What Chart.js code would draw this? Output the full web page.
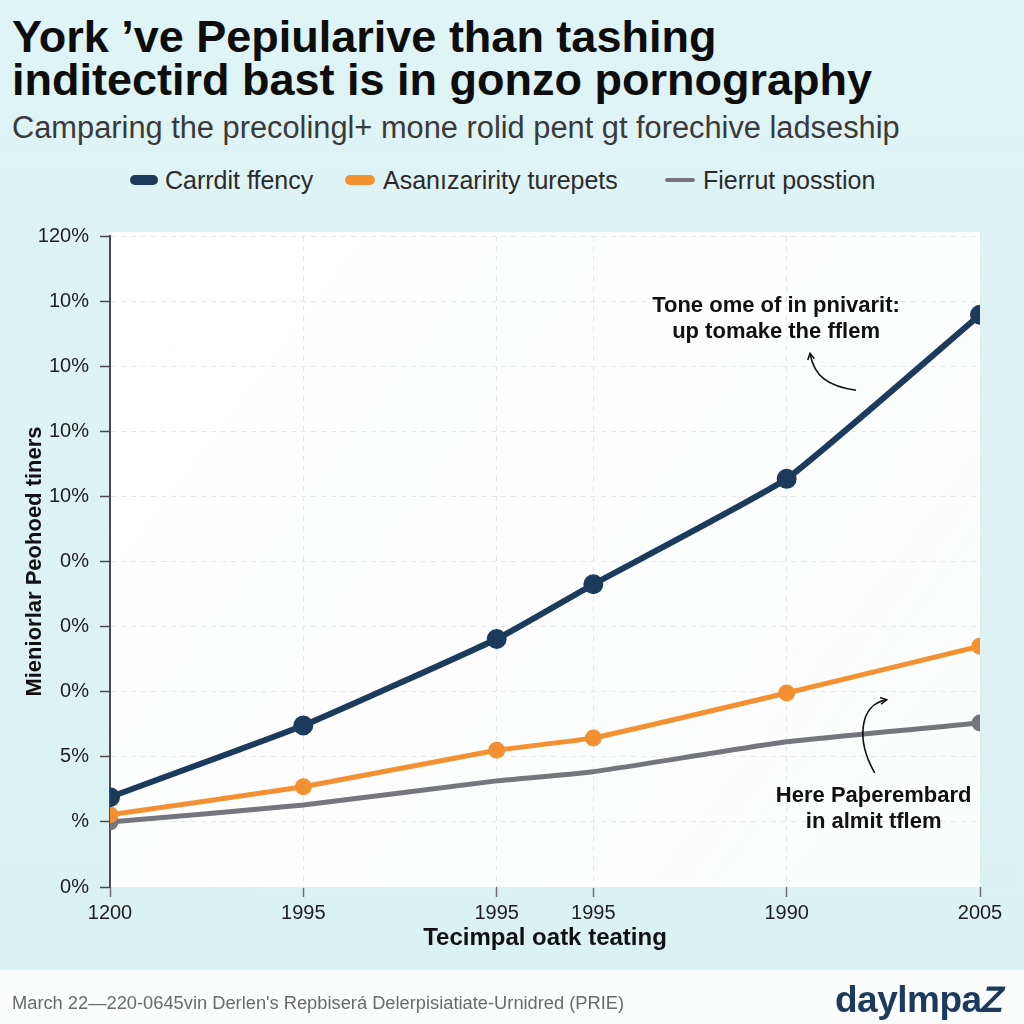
<!DOCTYPE html>
<html>
<head>
<meta charset="utf-8">
<script src="https://cdn.jsdelivr.net/npm/chart.js@4.4.1/dist/chart.umd.min.js"></script>
<style>
  html, body { margin: 0; padding: 0; }
  body {
    width: 1024px; height: 1024px; position: relative; overflow: hidden;
    background: linear-gradient(#dff4f4, #dbf2f3) 0 0 / 1024px 970px no-repeat, #fbfdfd;
    font-family: "Liberation Sans", Arial, sans-serif;
  }
  .abs { position: absolute; white-space: nowrap; }
  #title { left: 12px; top: 15px; font-size: 45px; line-height: 43px; font-weight: bold; color: #0d0d0d; }
  #subtitle { left: 12px; top: 113px; font-size: 30.8px; line-height: 30px; color: #3a3a3a; }
  .leg { top: 168px; font-size: 25px; line-height: 25px; color: #2b2b2b; }
  .mark { position: absolute; border-radius: 5px; }
  #chart { position: absolute; left: 0; top: 0; }
  #footer { left: 12px; top: 994px; font-size: 18.3px; line-height: 18px; color: #6a6a6a; }
  #logo { left: 835px; top: 981px; font-size: 37px; line-height: 37px; font-weight: bold; color: #1b3a5c; letter-spacing: -0.5px; }
  #logo span { display: inline-block; transform: skewX(-12deg); }
</style>
</head>
<body>
<div id="title" class="abs">York ’ve Pepiularive than tashing<br>inditectird bast is in gonzo pornography</div>
<div id="subtitle" class="abs">Camparing the precolingl+ mone rolid pent gt forechive ladseship</div>

<div class="mark" style="left:130px;top:175px;width:28px;height:10px;background:#1b3a5c"></div>
<div class="abs leg" style="left:165px">Carrdit ffency</div>
<div class="mark" style="left:345px;top:175px;width:30px;height:10px;background:#f39132"></div>
<div class="abs leg" style="left:383px">Asanızaririty turepets</div>
<div class="mark" style="left:665px;top:178px;width:30px;height:4px;background:#75767c;border-radius:2px"></div>
<div class="abs leg" style="left:703px">Fierrut posstion</div>

<canvas id="chart" width="1024" height="1024"></canvas>

<div id="footer" class="abs">March 22—220-0645vin Derlen's Repbiserá Delerpisiatiate-Urnidred (PRIE)</div>
<div id="logo" class="abs">daylmpa<span>Z</span></div>

<script>
// x positions on the axis and the (odd) tick labels shown under them
const xPositions = [0, 2, 4, 5, 7, 9];
const xLabels = ['1200', '1995', '1995', '1995', '1990', '2005'];
const yLabels = ['0%', '%', '5%', '0%', '0%', '0%', '10%', '10%', '10%', '10%', '120%'];

const seriesNames = ['Carrdit ffency', 'Asanızaririty turepets', 'Fierrut posstion'];
const navyValues = [13.8, 24.8, 38.1, 46.5, 62.7, 87.9];
const orangeValues = [11.1, 15.4, 21.0, 22.9, 29.8, 37.0];
const grayValues = [10.0, 12.6, 16.3, 17.7, 22.3, 25.2];

const NAVY = '#1b3a5c';
const ORANGE = '#f39132';
const GRAY = '#75767c';

function toPoints(values) {
    return values.map((v, i) => ({ x: xPositions[i], y: v }));
}

// text notes on the plot, anchored in data units
const notes = [
    { x: 6.89, y: 89.2, lines: ['Tone ome of in pnivarit:', 'up tomake the fflem'],
      arrow: { from: [34, 47], c1: [38, 70], c2: [52, 80], to: [80, 84], headAt: 'start' } },
    { x: 7.9, y: 14.0, lines: ['Here Paþerembard', 'in almit tflem'],
      arrow: { from: [1, -23], c1: [-18, -56], c2: [-14, -92], to: [13, -96], headAt: 'end' } }
];

const plotBackground = {
    id: 'plotBackground',
    beforeDraw(chart) {
        const { ctx, chartArea: a } = chart;
        ctx.save();
        const g = ctx.createLinearGradient(a.left, a.top, a.right, a.bottom);
        g.addColorStop(0, '#ffffff');
        g.addColorStop(1, '#fbfcfc');
        ctx.fillStyle = g;
        ctx.fillRect(a.left, a.top - 4, a.right - a.left, a.bottom - a.top + 4);
        ctx.restore();
    }
};

function arrowHead(ctx, x, y, angle) {
    ctx.beginPath();
    ctx.moveTo(x - 7 * Math.cos(angle - 0.5), y - 7 * Math.sin(angle - 0.5));
    ctx.lineTo(x, y);
    ctx.lineTo(x - 7 * Math.cos(angle + 0.5), y - 7 * Math.sin(angle + 0.5));
    ctx.stroke();
}

const notesPlugin = {
    id: 'notes',
    afterDatasetsDraw(chart) {
        const { ctx, scales } = chart;
        ctx.save();
        ctx.font = 'bold 22px "Liberation Sans", Arial, sans-serif';
        ctx.fillStyle = '#111';
        ctx.textAlign = 'center';
        ctx.textBaseline = 'middle';
        notes.forEach(n => {
            const px = scales.x.getPixelForValue(n.x);
            const py = scales.y.getPixelForValue(n.y);
            n.lines.forEach((t, i) => ctx.fillText(t, px, py + i * 26));

            const a = n.arrow;
            ctx.strokeStyle = '#111';
            ctx.lineWidth = 1.6;
            ctx.beginPath();
            ctx.moveTo(px + a.from[0], py + a.from[1]);
            ctx.bezierCurveTo(px + a.c1[0], py + a.c1[1], px + a.c2[0], py + a.c2[1], px + a.to[0], py + a.to[1]);
            ctx.stroke();
            if (a.headAt === 'end') {
                arrowHead(ctx, px + a.to[0], py + a.to[1], Math.atan2(a.to[1] - a.c2[1], a.to[0] - a.c2[0]));
            } else {
                arrowHead(ctx, px + a.from[0], py + a.from[1], Math.atan2(a.from[1] - a.c1[1], a.from[0] - a.c1[0]));
            }
        });
        ctx.restore();
    }
};

const tickFont = { family: '"Liberation Sans", Arial, sans-serif', size: 20 };

new Chart(document.getElementById('chart'), {
    type: 'line',
    data: {
        datasets: [
            {
                label: seriesNames[0],
                data: toPoints(navyValues),
                borderColor: NAVY,
                backgroundColor: NAVY,
                borderWidth: 6,
                pointRadius: 7,
                tension: 0.12
            },
            {
                label: seriesNames[1],
                data: toPoints(orangeValues),
                borderColor: ORANGE,
                backgroundColor: ORANGE,
                borderWidth: 5,
                pointRadius: 6,
                tension: 0.12
            },
            {
                label: seriesNames[2],
                data: toPoints(grayValues),
                borderColor: GRAY,
                backgroundColor: GRAY,
                borderWidth: 5,
                pointRadius: [6, 0, 0, 0, 0, 6],
                tension: 0.15
            }
        ]
    },
    options: {
        responsive: false,
        animation: false,
        devicePixelRatio: 1,
        layout: { padding: { top: 236, left: 0, right: 44, bottom: 57 } },
        plugins: {
            legend: { display: false },
            tooltip: { enabled: false }
        },
        scales: {
            x: {
                type: 'linear',
                min: 0,
                max: 9,
                afterBuildTicks(scale) {
                    scale.ticks = xPositions.map(v => ({ value: v }));
                },
                afterFit(scale) { scale.height = 80; },
                ticks: {
                    callback: (v, i) => xLabels[i],
                    autoSkip: false,
                    maxRotation: 0,
                    padding: 4,
                    color: '#1e1e1e',
                    font: tickFont
                },
                grid: {
                    color: '#e3e6e8',
                    lineWidth: 1,
                    tickLength: 10,
                    tickColor: '#6d6d6d',
                    tickWidth: 1.5
                },
                border: { display: false, dash: [5, 5] },
                title: {
                    display: true,
                    text: 'Tecimpal oatk teating',
                    color: '#111',
                    font: { family: '"Liberation Sans", Arial, sans-serif', size: 24, weight: 'bold' },
                    padding: { top: 0, bottom: 14 }
                }
            },
            y: {
                min: 0,
                max: 100,
                afterFit(scale) { scale.width = 110; },
                ticks: {
                    stepSize: 10,
                    callback: (v, i) => yLabels[i],
                    padding: 11,
                    color: '#1e1e1e',
                    font: tickFont
                },
                grid: {
                    color: '#e6e8ea',
                    lineWidth: 1,
                    tickLength: 10,
                    tickColor: '#4a4a4a',
                    tickWidth: 1.5
                },
                border: { display: true, color: '#4a4a4a', width: 2, dash: [5, 5] },
                title: {
                    display: true,
                    text: 'Mieniorlar Peohoed tiners',
                    color: '#111',
                    font: { family: '"Liberation Sans", Arial, sans-serif', size: 22, weight: 'bold' },
                    padding: { top: 22, bottom: 0 }
                }
            }
        }
    },
    plugins: [plotBackground, notesPlugin]
});
</script>
</body>
</html>
